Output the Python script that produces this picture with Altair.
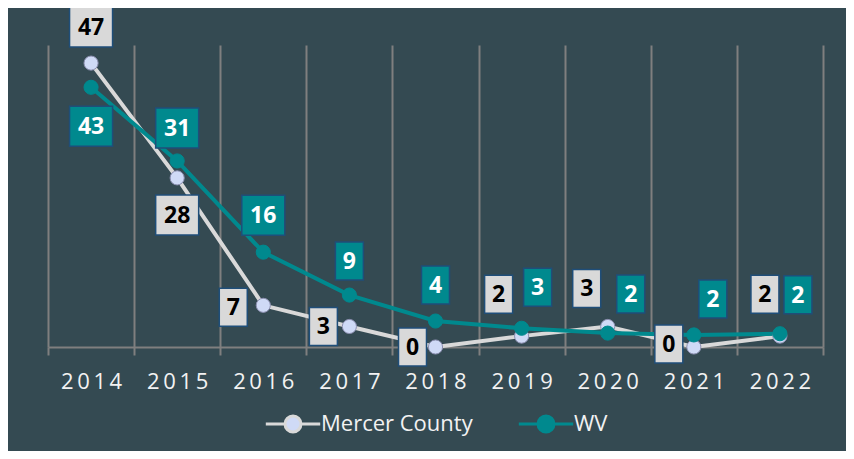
import altair as alt
import pandas as pd

# ---- data ----
years = [2014, 2015, 2016, 2017, 2018, 2019, 2020, 2021, 2022]
mercer = [47, 28, 6.9, 3.4, 0, 1.8, 3.4, 0, 1.8]
wv = [43, 30.8, 15.7, 8.6, 4.3, 3.1, 2.3, 2.0, 2.2]
series_names = ["Mercer County", "WV"]

# ---- label placement (pixel offsets of each label box from its point; right/down positive) ----
mercer_dx = [0, 0, -30, -26, -23, -23, -21, -25, -15]
mercer_dy = [-36, 37, 2, 0, 0, -42, -38, -3, -42]
wv_dx = [0, 0, 0, 0, 0, 16, 23, 19, 18]
wv_dy = [39, -33, -37, -34, -36, -41, -39, -36, -39]

W, H = 775, 302
YMAX = 50
BG = "#344a52"
TEAL = "#00898e"
GRAY_LINE = "#d9d9d9"
LAVENDER = "#cfdaf6"
BOX_BORDER = "#1f4e79"
GRID = "#7f7f7f"

long_df = pd.DataFrame(
    {
        "year": years * 2,
        "value": mercer + wv,
        "series": [series_names[0]] * len(years) + [series_names[1]] * len(years),
    }
)


def label_df(vals, dxs, dys):
    return pd.DataFrame(
        {
            "year": years,
            "value": vals,
            "dx": dxs,
            "dy": dys,
            "text": [f"{v:.0f}" for v in vals],
        }
    )


mercer_lab = label_df(mercer, mercer_dx, mercer_dy)
wv_lab = label_df(wv, wv_dx, wv_dy)

boundaries = [y - 0.5 for y in years] + [years[-1] + 0.5]
tick_values = sorted(boundaries + years)

xscale = alt.Scale(domain=[years[0] - 0.5, years[-1] + 0.5], nice=False, zero=False)
yscale = alt.Scale(domain=[0, YMAX], nice=False)

is_boundary = "datum.value % 1 !== 0"
xaxis = alt.Axis(
    title=None,
    values=tick_values,
    labelExpr="datum.value % 1 === 0 ? join(split(toString(datum.value), ''), '\u2009') : ''",
    grid=True,
    gridColor=GRID,
    gridWidth=2,
    gridOpacity={"condition": {"test": is_boundary, "value": 1}, "value": 0},
    ticks=True,
    tickColor=GRID,
    tickWidth=2,
    tickSize=8,
    tickOpacity={"condition": {"test": is_boundary, "value": 1}, "value": 0},
    domainColor=GRID,
    domainWidth=2,
    labelColor="#f2f2f2",
    labelFont="Open Sans",
    labelFontSize=22,
    labelPadding=16,
    labelFlush=False,
    labelOverlap=False,
)


def X(field):
    return alt.X(f"{field}:Q", scale=xscale, axis=xaxis)


def Y(field):
    return alt.Y(f"{field}:Q", scale=yscale, axis=None)


legend_path = "M-3.4,0H-1M1,0H3.4M1,0A1,1,0,1,1,-1,0A1,1,0,1,1,1,0Z"

base = alt.Chart(long_df)

lines = base.mark_line(strokeWidth=4).encode(
    x=X("year"),
    y=Y("value"),
    color=alt.Color(
        "series:N",
        scale=alt.Scale(domain=series_names, range=[GRAY_LINE, TEAL]),
        legend=alt.Legend(
            title=None,
            orient="none",
            legendX=234,
            legendY=368,
            direction="horizontal",
            symbolType=legend_path,
            symbolSize=256,
            symbolStrokeWidth=3,
            symbolFillColor=alt.ExprRef(f"datum.value === 'WV' ? '{TEAL}' : '{LAVENDER}'"),
            symbolOpacity=1,
            labelFont="Open Sans",
            labelFontSize=22,
            labelColor="#f2f2f2",
            labelOffset=17,
            columnPadding=39,
        ),
    ),
    order=alt.Order("year:Q"),
)

points = base.mark_point(filled=True, size=200, opacity=1, strokeWidth=1).encode(
    x=X("year"),
    y=Y("value"),
    fill=alt.Fill("series:N", scale=alt.Scale(domain=series_names, range=[LAVENDER, TEAL]), legend=None),
    stroke=alt.Stroke("series:N", scale=alt.Scale(domain=series_names, range=["#8c8fb0", TEAL]), legend=None),
)

box_paths = ["M-0.7,-0.95H0.7V0.95H-0.7Z", "M-1.075,-1H1.075V1H-1.075Z"]


def label_layers(df, fill, text_color):
    b = alt.Chart(df).transform_calculate(
        lx=f"datum.year + datum.dx * {len(years)} / {W}",
        ly=f"datum.value - datum.dy * {YMAX} / {H}",
        w="length(datum.text)",
    )
    boxes = b.mark_point(
        filled=True, size=1600, opacity=1, fill=fill, stroke=BOX_BORDER, strokeWidth=1.5
    ).encode(
        x=X("lx"),
        y=Y("ly"),
        shape=alt.Shape("w:N", scale=alt.Scale(domain=[1, 2], range=box_paths), legend=None),
    )
    texts = b.mark_text(
        font="Open Sans",
        fontWeight="bold",
        fontSize=23,
        baseline="middle",
        align="center",
        color=text_color,
        dy=1,
    ).encode(x=X("lx"), y=Y("ly"), text="text:N")
    return boxes + texts


chart = (
    alt.layer(
        lines,
        points,
        label_layers(mercer_lab, "#d9d9d9", "#000000"),
        label_layers(wv_lab, TEAL, "#ffffff"),
    )
    .properties(
        width=W,
        height=H,
        background=BG,
        autosize=alt.AutoSizeParams(type="none"),
        padding={"left": 40, "top": 37, "right": 23, "bottom": 104},
    )
    .configure_view(stroke=None)
)

chart.save("out.html", embed_options={"renderer": "svg", "actions": False})
